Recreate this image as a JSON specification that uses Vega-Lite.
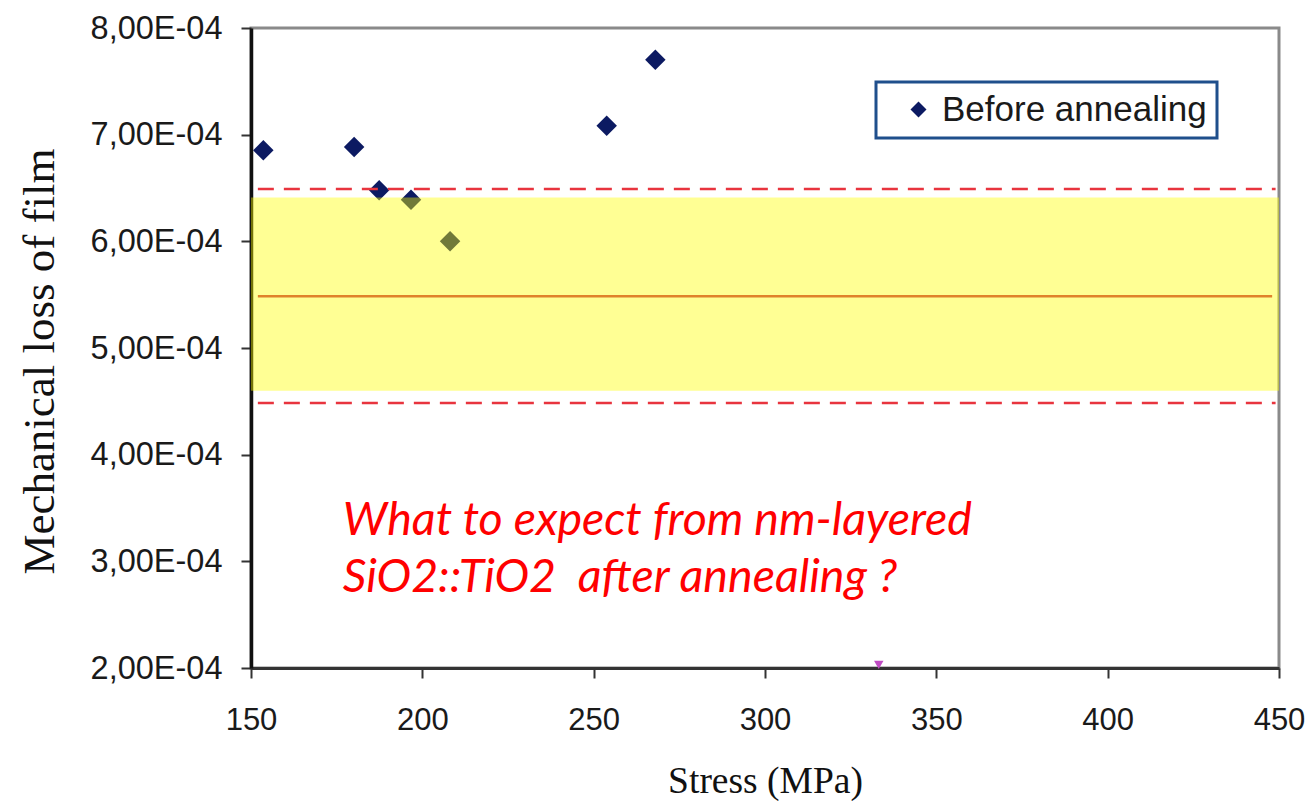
{
  "$schema": "https://vega.github.io/schema/vega-lite/v6.json",
  "autosize": {"type": "none"},
  "width": 1028,
  "height": 640,
  "padding": {"left": 251, "top": 28, "right": 32, "bottom": 133},
  "background": "white",
  "config": {
    "view": {"stroke": "#8a8a8a", "strokeWidth": 3},
    "axis": {"grid": false, "zindex": 1},
    "legend": {"strokeWidth": 3}
  },
  "layer": [
    {
      "data": {"values": [
        {"stress": 153.6, "loss": 0.0006853, "series": "Before annealing"},
        {"stress": 180.1, "loss": 0.0006884, "series": "Before annealing"},
        {"stress": 187.4, "loss": 0.0006478, "series": "Before annealing"},
        {"stress": 196.7, "loss": 0.000639, "series": "Before annealing"},
        {"stress": 208.1, "loss": 0.0006, "series": "Before annealing"},
        {"stress": 253.8, "loss": 0.0007084, "series": "Before annealing"},
        {"stress": 268.0, "loss": 0.0007703, "series": "Before annealing"}
      ]},
      "mark": {"type": "point", "shape": "diamond", "filled": true, "size": 420, "opacity": 1},
      "encoding": {
        "x": {
          "field": "stress", "type": "quantitative",
          "scale": {"domain": [150, 450], "nice": false, "zero": false},
          "axis": {
            "values": [150, 200, 250, 300, 350, 400, 450],
            "title": "Stress (MPa)",
            "titleFont": "Liberation Serif", "titleFontSize": 37.5, "titleFontWeight": "normal", "titleColor": "#111",
            "titlePadding": 27,
            "labelFont": "Liberation Sans", "labelFontSize": 31, "labelColor": "#1a1a1a",
            "labelPadding": 27, "labelFlush": false,
            "domainColor": "#333", "domainWidth": 3,
            "tickColor": "#333", "tickWidth": 2, "tickSize": 10
          }
        },
        "y": {
          "field": "loss", "type": "quantitative",
          "scale": {"domain": [0.0002, 0.0008], "nice": false, "zero": false},
          "axis": {
            "values": [0.0002, 0.0003, 0.0004, 0.0005, 0.0006, 0.0007, 0.0008],
            "labelExpr": "replace(format(datum.value*10000, '.2f'), '.', ',') + 'E-04'",
            "title": "Mechanical loss of film",
            "titleFont": "Liberation Serif", "titleFontSize": 45, "titleFontWeight": "normal", "titleColor": "#111",
            "titlePadding": 28,
            "titleY": 333,
            "labelFont": "Liberation Sans", "labelFontSize": 32.5, "labelColor": "#1a1a1a",
            "labelPadding": 19,
            "domainColor": "#111", "domainWidth": 3.5,
            "tickColor": "#333", "tickWidth": 2, "tickSize": 10
          }
        },
        "color": {
          "field": "series", "type": "nominal",
          "scale": {"range": ["#0c1a62"]},
          "legend": {
            "title": null,
            "orient": "none",
            "legendX": 625,
            "legendY": 54,
            "padding": 10,
            "strokeColor": "#1f4f8c",
            "fillColor": "white",
            "symbolType": "diamond",
            "symbolSize": 256,
            "symbolStrokeWidth": 0,
            "symbolOffset": 15,
            "labelOffset": 6,
            "labelFont": "Liberation Sans",
            "labelFontSize": 35,
            "labelLimit": 500,
            "labelColor": "#1a1a1a"
          }
        }
      }
    },
    {
      "data": {"values": [{"lo": 0.000460, "hi": 0.000641}]},
      "mark": {"type": "rect", "color": "#FFFF00", "opacity": 0.42},
      "encoding": {
        "x": {"datum": 150, "type": "quantitative"},
        "x2": {"datum": 450},
        "y": {"field": "lo", "type": "quantitative"},
        "y2": {"field": "hi"}
      }
    },
    {
      "data": {"values": [{"level": 0.0005484}]},
      "mark": {"type": "rule", "color": "#E0822A", "strokeWidth": 2.5},
      "encoding": {
        "x": {"datum": 152, "type": "quantitative"},
        "x2": {"datum": 448},
        "y": {"field": "level", "type": "quantitative"}
      }
    },
    {
      "data": {"values": [{"level": 0.000649}, {"level": 0.0004484}]},
      "mark": {"type": "rule", "color": "#E8343E", "strokeWidth": 2.5, "strokeDash": [16, 10]},
      "encoding": {
        "x": {"datum": 152, "type": "quantitative"},
        "x2": {"datum": 449},
        "y": {"field": "level", "type": "quantitative"}
      }
    },
    {
      "data": {"values": [{"stress": 333.2, "loss": 0.000203}]},
      "mark": {"type": "point", "shape": "triangle-down", "filled": true, "size": 90, "color": "#C04CC4", "opacity": 1},
      "encoding": {
        "x": {"field": "stress", "type": "quantitative"},
        "y": {"field": "loss", "type": "quantitative"}
      }
    },
    {
      "data": {"values": [{"note": "What to expect from nm-layered\nSiO2::TiO2\u00a0 after annealing ?"}]},
      "mark": {"type": "text", "align": "left", "baseline": "alphabetic", "font": "Lato", "fontStyle": "italic", "fontSize": 46.5, "color": "#FF0000", "lineBreak": "\n", "lineHeight": 57},
      "encoding": {
        "x": {"datum": 176.8, "type": "quantitative"},
        "y": {"datum": 0.000325, "type": "quantitative"},
        "text": {"field": "note"}
      }
    }
  ]
}
